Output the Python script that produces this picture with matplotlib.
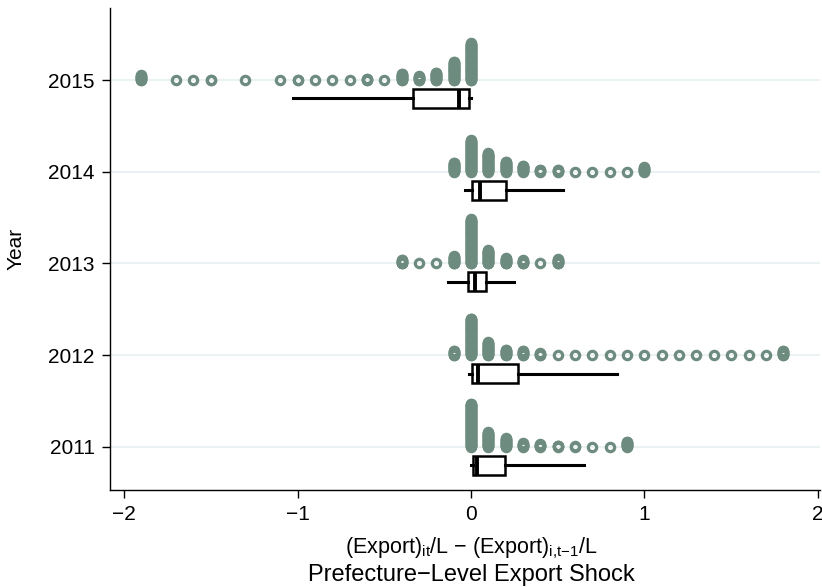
import matplotlib
matplotlib.use("Agg")
import matplotlib.pyplot as plt

plt.rcParams['font.family'] = ['Liberation Sans', 'DejaVu Sans']
plt.rcParams['mathtext.fontset'] = 'custom'
plt.rcParams['mathtext.rm'] = 'Liberation Sans'
plt.rcParams['mathtext.it'] = 'Liberation Sans'

# dot strips: bin centre (width 0.1) and number of stacked observations
years = [2011, 2012, 2013, 2014, 2015]

bins_2011 = [0.0, 0.1, 0.2, 0.3, 0.4, 0.5, 0.6, 0.7, 0.8, 0.9]
counts_2011 = [92, 32, 19, 9, 7, 4, 2, 1, 1, 12]

bins_2012 = [-0.1, 0.0, 0.1, 0.2, 0.3, 0.4, 0.5, 0.6, 0.7, 0.8, 0.9, 1.0,
             1.1, 1.2, 1.3, 1.4, 1.5, 1.6, 1.7, 1.8]
counts_2012 = [10, 78, 28, 12, 10, 5, 1, 1, 1, 1, 1, 1,
               1, 1, 1, 1, 1, 1, 1, 10]

bins_2013 = [-0.4, -0.3, -0.2, -0.1, 0.0, 0.1, 0.2, 0.3, 0.4, 0.5]
counts_2013 = [9, 1, 1, 16, 94, 29, 12, 8, 1, 10]

bins_2014 = [-0.1, 0.0, 0.1, 0.2, 0.3, 0.4, 0.5, 0.6, 0.7, 0.8, 0.9, 1.0]
counts_2014 = [20, 67, 40, 22, 14, 5, 5, 1, 1, 1, 1, 10]

bins_2015 = [-1.9, -1.7, -1.6, -1.5, -1.3, -1.1, -1.0, -0.9, -0.8, -0.7,
             -0.6, -0.5, -0.4, -0.3, -0.2, -0.1, 0.0]
counts_2015 = [11, 1, 1, 2, 1, 1, 2, 1, 1, 1, 4, 1, 14, 9, 16, 39, 78]

strips = [(bins_2011, counts_2011), (bins_2012, counts_2012),
          (bins_2013, counts_2013), (bins_2014, counts_2014),
          (bins_2015, counts_2015)]

# box plot statistics per year (same order as years)
box_lo = [0.0, -0.01, -0.134, -0.035, -1.026]
box_q1 = [0.01, 0.008, -0.015, 0.004, -0.334]
box_med = [0.033, 0.04, 0.025, 0.05, -0.071]
box_q3 = [0.196, 0.27, 0.087, 0.20, -0.01]
box_hi = [0.65, 0.84, 0.25, 0.53, 0.0]

dot_color = '#6d8c7f'
step = 0.0052   # vertical offset between stacked dots

fig = plt.figure(figsize=(8.22, 5.87), dpi=100)
ax = fig.add_axes([110/822, 1 - 490/587, 710/822, 482/587])

for yr, (b, c) in zip(years, strips):
    xs, ys = [], []
    for xv, n in zip(b, c):
        for k in range(n):
            xs.append(xv)
            ys.append(yr + k * step)
    ax.plot(xs, ys, 'o', ms=6.0, mew=2.3, mfc='none', mec=dot_color,
            ls='none', zorder=3)

stats = []
for i in range(len(years)):
    stats.append({'whislo': box_lo[i], 'q1': box_q1[i], 'med': box_med[i],
                  'q3': box_q3[i], 'whishi': box_hi[i], 'fliers': []})

ax.bxp(stats, positions=[y - 0.2 for y in years], widths=0.205,
       orientation='horizontal', showcaps=False, showfliers=False,
       patch_artist=True,
       boxprops=dict(facecolor='white', edgecolor='black', lw=1.8),
       whiskerprops=dict(color='black', lw=2.2),
       medianprops=dict(color='black', lw=2.8),
       manage_ticks=False, zorder=4)

ax.set_xlim(-2.081, 2.012)
ax.set_ylim(2010.531, 2015.785)
ax.set_yticks(years)
ax.set_yticklabels([str(y) for y in years])
ax.set_xticks([-2, -1, 0, 1, 2])
ax.yaxis.grid(True, color='#eaf2f3', lw=1.5)
ax.set_axisbelow(True)

for s in ['top', 'right']:
    ax.spines[s].set_visible(False)
for s in ['left', 'bottom']:
    ax.spines[s].set_linewidth(1.0)

ax.tick_params(axis='both', labelsize=15, length=6, width=1.0, pad=5)

ax.set_ylabel('Year', fontsize=15, labelpad=16)

# two-line x title
fig.text(471/822, 1 - 548/587,
         '(Export)$_{\\mathrm{it}}$/L \u2212 (Export)$_{\\mathrm{i{,}t{\u2212}1}}$/L',
         fontsize=15.5, ha='center', va='center')
fig.text(471/822, 1 - 575/587, 'Prefecture\u2212Level Export Shock',
         fontsize=17, ha='center', va='center')

fig.savefig('out.png', dpi=100)
